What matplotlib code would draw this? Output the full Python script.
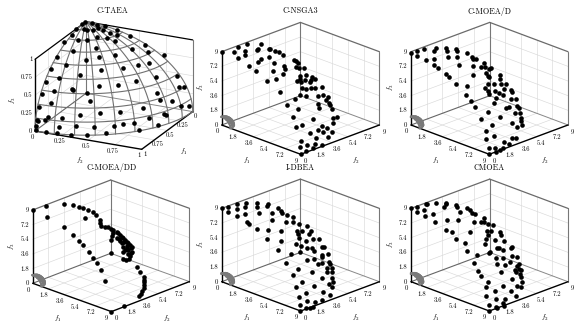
import numpy as np
import matplotlib
matplotlib.use('Agg')
import matplotlib.pyplot as plt

plt.rcParams['font.family'] = ['cmr10', 'DejaVu Serif']
plt.rcParams['mathtext.fontset'] = 'cm'
plt.rcParams['axes.unicode_minus'] = False

titles = ['C-TAEA', 'C-NSGA3', 'C-MOEA/D', 'C-MOEA/DD', 'I-DBEA', 'CMOEA']

ticks_unit = [0, 0.25, 0.5, 0.75, 1]
labels_unit = ['0', '0.25', '0.5', '0.75', '1']
ticks_nine = [0, 1.8, 3.6, 5.4, 7.2, 9]
labels_nine = ['0', '1.8', '3.6', '5.4', '7.2', '9']

# points on the front, one panel after the other
ctaea_f1 = [.01,.01,.01,0,0,.01,.02,.07,.2,.28,.43,.58,.7,.81,.89,.95,.99,1,.07,.13,.15,.15,.08,.1,.08,.18,.18,.22,.29,.34,.49,.64,.76,.85,.92,.97,.98,.99,1,1,.98,.95,.9,.82,.72,.62,.97,.93,.86,.77,.64,.52,.46,.36,.16,.05,.38,.54,.7,.81,.89,.95,.8,.8,.77,.8,.68,.53,.56,.68,.58,.42,.3,.44,.26,.36,.26,.04,.11,.05,.37,.09,.2,0,.45,.35,.17,.36]
ctaea_f2 = [0,.06,.11,.18,.29,.42,.56,0,0,0,0,.01,.01,.01,.01,.01,.01,.01,.15,.13,.08,.05,.2,.27,.33,.36,.28,.21,.15,.09,.11,.12,.11,.11,.11,.11,.08,.02,.01,.1,.2,.31,.44,.58,.69,.79,.21,.35,.49,.63,.76,.84,.89,.92,.97,.99,.91,.79,.65,.52,.37,.23,.26,.42,.38,.25,.27,.25,.41,.45,.58,.55,.63,.68,.78,.84,.93,.87,.92,.94,.87,.62,.69,.73,.34,.44,.51,.27]
ctaea_f3 = [1,1,.99,.99,.96,.91,.83,1,1,.96,.94,.82,.71,.59,.46,.31,.15,.07,.99,.98,.98,.99,.98,.96,.94,.92,.94,.95,.94,.94,.87,.76,.64,.51,.37,.21,.16,.14,.01,.01,.01,0,0,.02,.13,.01,.1,.12,.11,.11,.12,.15,.03,.12,.16,.1,.15,.28,.28,.28,.26,.22,.54,.42,.5,.54,.68,.81,.72,.58,.57,.72,.71,.58,.57,.41,.26,.49,.38,.35,.32,.78,.7,.72,.83,.83,.84,.89]

nsga3_f1 = [0,.63,0,.9,0,1.63,1.71,1.04,.81,0,3.13,3.86,2.88,2.62,0,0,2.39,.32,.6,.63,3.43,4.29,5.11,5.19,3.78,4.22,4.79,6.31,1.7,1.89,2.06,3.62,.97,2.8,4.93,.31,4.54,.9,5.54,5.64,5.34,2.53,3.57,4.95,.22,.76,5.99,5.8,4.31,0,.67,7.02,6.48,5.87,5.07,3.88,5.33,5.3,7.12,7.39,5.75,7.29,7.68,8.01,8.16,6.32,5.9,6.3,8.44,8.44,8.15,8.47,7.92,8.3,8.69,8.67,7.95,7.39,8.86,8.96,8.93,8.8,8.72,8.87,8.98,9]
nsga3_f2 = [0,.77,1.83,1.76,2.86,1.03,.19,2.96,3.38,4.46,.03,.01,1.22,1.83,5.41,5.57,3.01,5.82,5.99,6.42,2.58,1.57,.09,1,3.34,3.01,2.24,.3,6.53,6.64,6.66,4.83,7.91,6.61,3.97,8.69,5.09,8.63,3.09,3.41,4.74,7.76,7.1,5.21,8.94,8.89,4.17,4.85,7.12,9,8.97,1.34,4.48,5.66,7.11,8.01,6.97,7.07,3.87,3.75,6.89,.15,1.06,.12,2.26,6.89,6.77,6.45,.03,.68,3.33,2.47,4.14,3.3,1.38,2.08,4.22,5.24,.18,.01,.76,1.84,2.68,1.54,.63,0]
nsga3_f3 = [9,8.94,8.84,8.78,8.8,8.79,8.83,8.44,8.3,8.12,8.44,8.13,8.44,8.41,7.2,7.14,8.14,6.88,6.76,6.28,7.91,7.76,7.41,7.28,7.46,7.36,7.28,6.41,6.05,5.96,5.77,6.67,4.18,5.43,6.4,2.34,5.87,2.39,6.38,6.13,5.48,3.8,4.23,5.42,1.05,1.21,5.27,4.88,3.54,.08,.28,5.47,4.36,3.81,2.58,1.38,2.08,1.71,3.92,3.5,1.46,5.27,4.57,4.1,3.06,.75,.55,.23,3.12,3.06,1.85,1.75,1.1,1.14,1.9,1,.02,0,1.55,.88,.82,.45,0,.07,.19,0]

moead_f1 = [0,.19,.73,.21,1.68,.36,.9,2.08,2.64,3.1,.47,1.19,2.35,.69,1.29,3.59,2.5,1.41,2.1,2.6,2.55,3.78,4.87,4.02,4.4,5.21,5.81,6.32,.95,3.84,3.6,3.31,.91,4.56,.19,.33,2.67,4.64,5.7,1.77,5.8,2.87,6.23,6.43,.72,1.24,2.07,5.22,5.25,.76,6.72,6.53,3.04,4.52,7.34,7.22,7.47,4.38,5.05,6.32,6.89,7.35,7.83,8.04,8.07,7.3,6.72,6.93,6.38,7.75,8.04,8.42,8.57,8.65,8.77,8.4,8.08,8.78,8.58,8.86,8.96,8.96,9,8.97,9]
moead_f2 = [0,.54,0,1.24,0,2.47,1.74,.6,0,0,3.5,2.9,1.93,4.5,4.02,1.92,2.82,4.97,4.85,4.55,4.86,3.29,2.21,0,0,0,.66,0,7.36,4.18,4.88,5.85,8.02,4,8.58,8.63,7.53,5.6,3.82,8.5,2.99,8.01,2.3,2.45,8.93,8.87,8.58,6.25,6.33,8.97,2.2,4.06,8.41,7.51,2.18,4.06,3.43,7.8,7.36,6.21,0,0,1.01,0,2.14,4.63,5.85,5.64,6.38,4.45,3.51,.92,.01,0,.81,3.16,3.97,1.86,2.7,1.7,0,.69,1.22,.79,0]
moead_f3 = [8.88,8.98,8.8,8.91,8.65,8.65,8.79,8.74,8.38,8.23,8.28,8.44,8.47,7.77,7.95,8.03,8.18,7.37,7.28,7.32,7.13,7.48,7.24,7.87,7.65,7.16,6.84,6.21,5.09,6.98,6.65,5.98,3.99,6.65,2.7,2.53,4.15,5.3,5.82,2.38,6.2,2.94,6.07,5.81,.85,.92,1.78,3.84,3.66,.07,5.57,4.67,1,2.03,4.72,3.52,3.66,.96,1.12,1.56,5.66,5.15,4.32,3.95,3.35,2.5,1.25,1.05,0,1.07,2.01,3.04,2.73,1.74,1.88,.5,.01,.64,.02,0,.8,.45,0,0,0]

moeadd_f1 = [0,0,1.68,0,3.54,.01,.2,.16,.52,.9,2.02,2.98,3.08,3.7,4.1,4.57,5.33,5.79,6.38,6.93,7.3,7.75,8.3,.16,.56,4.23,4.36,4.8,.48,5.66,0,4.31,1.77,4.63,1.08,1.48,2.12,4.89,4.99,2.75,3,5.19,3.12,6.01,1.64,6.04,6.31,6.04,6.11,2.85,2.66,6.53,6.56,7.14,7.16,2.49,1.48,2.11,2.56,3.67,7.04,6.97,6.19,6.36,6.43,6.85,7.22,7.64,7.97,8.25,8.9,9]
moeadd_f2 = [0,1.57,0,3.58,0,4.61,5.14,5.69,5.9,6.09,5.27,3.03,4.66,4.04,3.71,0,.01,.01,.02,.01,.02,.03,.02,8.23,8.16,4.77,4.83,4.47,8.63,3.36,9,5.35,8.09,5.41,8.6,8.51,8.14,5.53,5.62,8.08,8.02,6,8.16,5.36,8.62,4.37,4.29,4.76,4.87,8.43,8.55,3.87,4.42,3.26,3.55,8.64,8.59,8.41,8.35,7.76,4.9,5.36,6.56,6.47,6.37,5.97,5.52,4.91,4.42,3.99,1.6,0]
moeadd_f3 = [9,8.89,8.83,8.27,8.24,7.73,7.38,6.98,6.79,6.57,7.01,7.93,7.05,7.14,7.1,7.66,7.25,6.9,6.34,5.74,5.26,4.58,3.49,3.65,3.75,6.35,6.21,6.16,2.5,6.13,.08,5.82,3.51,5.51,2.42,2.53,3.22,5.15,4.95,2.87,2.79,4.25,2.16,4.02,2.02,5.04,4.77,4.68,4.46,1.33,.93,4.83,4.29,4.41,4.14,.37,2.25,2.4,2.2,2.7,2.72,1.93,.53,.22,0,0,0,0,0,0,0,0]

idbea_f1 = [0,.09,.76,0,.87,1.75,.04,.79,1.95,2.85,3.15,.02,1.04,2.15,4.02,.58,0,4.45,5.2,2.27,3.41,.48,1.38,2.11,2.25,3.75,4.84,5.73,6.36,1.42,3.58,3.43,2.79,4.74,.78,5.12,.07,3.2,4.6,3.97,2.06,5.71,6.12,.11,6.44,1.51,6.48,3.51,4.58,3.03,5.05,6.89,6.77,7.34,7.18,3.11,7.41,7.11,4.69,4.92,7.07,5.79,7.3,5.46,6.79,6.38,8,7.33,7.82,7.99,8.07,7.7,8.42,8.51,8.47,7.32,8.38,8.79,8.81,8.23,8.54,8.81,8.92,8.96,9,8.98,8.96,9]
idbea_f2 = [0,.67,0,1.75,.88,0,2.78,1.88,.71,0,0,3.98,2.96,2.11,0,4.56,5.34,.87,0,3.52,2.37,5.92,5.4,4.82,5.18,3.63,1.96,1.07,.06,6.77,4.52,5.41,6.92,3.82,8.37,3.63,8.81,6.97,5.41,7.15,8.34,3.91,2.32,8.97,3.34,8.78,4.1,7.92,7.11,8.4,7.06,1.05,2.17,2.36,3.36,8.39,3.54,4.3,7.57,7.46,4.99,6.81,4.75,7.14,5.84,6.36,3.49,0,.92,2.28,.02,4.55,.69,2.06,0,5.23,3.18,.78,0,4.13,2.91,1.83,.76,0,1.37,.63,0,1.07]
idbea_f3 = [9,8.98,8.89,8.83,8.91,8.8,8.56,8.77,8.76,8.5,8.38,8.07,8.44,8.48,8.03,7.74,7.36,7.77,7.28,7.97,7.98,6.82,7.07,7.3,7.01,7.33,7.33,6.86,6.37,5.76,6.91,6.33,5.18,6.63,3.23,6.45,1.82,4.75,5.53,4.01,2.68,5.75,6.18,.79,5.33,1.26,4.72,2.45,3.2,1.12,2.55,5.69,5.52,4.65,4.27,.96,3.68,3.46,1.3,1.11,2.47,1.31,2.25,.48,.87,.01,2.21,5.18,4.36,3.47,3.99,1.02,3.09,2.09,2.73,.14,.85,1.77,1.64,0,0,.25,.89,.72,0,.06,0,0]

cmoea_f1 = [0,.06,.73,.94,.04,0,1.64,1.9,0,2.8,1.02,.47,0,3.14,4.02,4.52,.17,.88,2.21,3.39,5.21,.47,.49,2.1,.29,3.72,4.88,5.78,6.39,3.61,1.84,.53,3.56,3.04,.14,4.58,5.22,5.68,5.63,2.8,2.34,2.38,6.37,6.3,6.37,5.49,4.51,6.17,.04,7.05,7.22,3.33,5.15,6.9,6.89,7.56,7.49,7.11,5.18,4.28,7.3,4.83,5.86,7.39,6.82,6.7,7.27,7.74,8.04,8,7.96,6.47,7.81,8.43,8.58,8.51,8.39,7.26,8.65,8.73,8.21,8.89,8.97,8.75,8.82,8.97,9,9,9]
cmoea_f2 = [0,.63,0,.59,1.64,1.87,0,.62,2.82,0,2.8,3.5,4.04,1.03,0,.19,5.02,4.42,3.4,1.96,0,5.94,6.26,4.85,7.04,3.54,1.93,.42,0,4.41,6.56,7.86,5.3,6.31,8.52,4.56,3.65,2.96,4,7.4,7.96,8.27,3.46,3.83,4.14,5.94,7.1,2.32,9,3.51,2.53,8.28,7.03,.64,2.06,2.27,3.33,4.21,7.24,7.9,4.63,7.58,6.75,4.61,5.72,5.95,0,0,0,2.29,3.67,6.26,4.39,.41,.07,2.09,3.08,5.32,0,.91,3.8,.91,.03,2.04,1.78,.76,1.68,0,.84]
cmoea_f3 = [9,8.98,8.88,8.93,8.85,8.83,8.76,8.77,8.57,8.48,8.49,8.28,8.08,8.37,7.99,7.78,7.47,7.79,8.03,8.1,7.32,6.81,6.45,7.28,5.6,7.39,7.31,6.89,6.32,6.96,5.88,4.35,6.34,5.65,2.91,6.27,6.36,6.32,5.77,4.3,3.48,2.63,5.34,5.16,4.82,3.95,3.22,6.12,.1,4.36,4.74,1.17,2.32,5.74,5.41,4.32,3.71,3.57,1.35,.47,2.5,.41,1.08,2.26,1.34,.83,5.16,4.4,3.95,3.43,2.04,0,.88,3.13,2.71,2.07,1.02,.08,1.66,1.98,0,1.07,.71,.51,.16,.21,0,0,0]

fronts = [
    (ctaea_f1, ctaea_f2, ctaea_f3),
    (nsga3_f1, nsga3_f2, nsga3_f3),
    (moead_f1, moead_f2, moead_f3),
    (moeadd_f1, moeadd_f2, moeadd_f3),
    (idbea_f1, idbea_f2, idbea_f3),
    (cmoea_f1, cmoea_f2, cmoea_f3),
]

# where each box sits on the page, in pixels: origin and the three axis directions
views = [
    dict(o=(86, 93.3), e1=(-51, 37.7), e2=(106.7, 18.3), h=71.7, page=(0, 195, 0, 165)),
    dict(o=(221.7, 125), e1=(79, 29.3), e2=(78.7, -29.3), h=73.3, page=(195, 385, 0, 165)),
    dict(o=(411, 125), e1=(78.3, 29.3), e2=(78.7, -29.3), h=73.3, page=(385, 581, 0, 165)),
    dict(o=(32.7, 283.3), e1=(78.7, 28.3), e2=(78, -30), h=73.3, page=(0, 195, 165, 329)),
    dict(o=(221.7, 281.7), e1=(79, 29.3), e2=(78.7, -29.3), h=73.3, page=(195, 385, 165, 329)),
    dict(o=(411, 281.7), e1=(78.3, 29.3), e2=(78.7, -29.3), h=73.3, page=(385, 581, 165, 329)),
]


def project(view, f1, f2, f3, top):
    f1, f2, f3 = np.asarray(f1, float), np.asarray(f2, float), np.asarray(f3, float)
    x = view['o'][0] + (f1 * view['e1'][0] + f2 * view['e2'][0]) / top
    y = view['o'][1] + (f1 * view['e1'][1] + f2 * view['e2'][1]) / top - f3 * view['h'] / top
    return x, y


def seg(ax, view, a, b, top, color, lw, zorder=2):
    x, y = project(view, [a[0], b[0]], [a[1], b[1]], [a[2], b[2]], top)
    ax.plot(x, y, color=color, lw=lw, zorder=zorder, solid_capstyle='round')


def sphere_lines(ax, view, radius, top, color, lw, step, zorder):
    t = np.radians(np.linspace(0, 90, 46))
    for deg in np.arange(0, 90, step):
        el = np.radians(deg)
        x, y = project(view, radius * np.cos(el) * np.cos(t), radius * np.cos(el) * np.sin(t),
                       radius * np.sin(el) * np.ones_like(t), top)
        ax.plot(x, y, color=color, lw=lw, zorder=zorder)
    for deg in np.arange(0, 91, step):
        az = np.radians(deg)
        x, y = project(view, radius * np.cos(t) * np.cos(az), radius * np.cos(t) * np.sin(az),
                       radius * np.sin(t), top)
        ax.plot(x, y, color=color, lw=lw, zorder=zorder)


fig = plt.figure(figsize=(5.81, 3.29), dpi=100)

for i, (title, front, view) in enumerate(zip(titles, fronts, views)):
    x0, x1, y0, y1 = view['page']
    ax = fig.add_axes([x0 / 581, 1 - y1 / 329, (x1 - x0) / 581, (y1 - y0) / 329])
    ax.set_xlim(x0, x1)
    ax.set_ylim(y1, y0)
    ax.axis('off')

    first = i == 0
    top = 1 if first else 9
    ticks = ticks_unit if first else ticks_nine
    labels = labels_unit if first else labels_nine

    # the corners of the floor, as (f1, f2)
    if first:
        left, front_c, right, back = (1, 0), (1, 1), (0, 1), (0, 0)
    else:
        left, front_c, right, back = (0, 0), (9, 0), (9, 9), (0, 9)

    # grid on the floor and on the two back walls
    grid = '#d9d9d9'
    for t in ticks[1:-1]:
        seg(ax, view, (t, 0, 0), (t, top, 0), top, grid, 0.45, 1)
        seg(ax, view, (0, t, 0), (top, t, 0), top, grid, 0.45, 1)
        seg(ax, view, (*left, t), (*back, t), top, grid, 0.45, 1)
        seg(ax, view, (*back, t), (*right, t), top, grid, 0.45, 1)
        if first:
            seg(ax, view, (t, 0, 0), (t, 0, top), top, grid, 0.45, 1)
            seg(ax, view, (0, t, 0), (0, t, top), top, grid, 0.45, 1)
        else:
            seg(ax, view, (0, t, 0), (0, t, top), top, grid, 0.45, 1)
            seg(ax, view, (t, 9, 0), (t, 9, top), top, grid, 0.45, 1)

    # box
    dark = '#000000'
    edge = '#000000' if first else '#6a6a6a'
    seg(ax, view, (*left, 0), (*front_c, 0), top, dark, 1.0, 3)
    seg(ax, view, (*front_c, 0), (*right, 0), top, dark, 1.0, 3)
    seg(ax, view, (*left, 0), (*left, top), top, dark, 1.0, 3)
    seg(ax, view, (*left, top), (*back, top), top, edge, 0.9, 3)
    seg(ax, view, (*back, top), (*right, top), top, edge, 0.9, 3)
    seg(ax, view, (*right, top), (*right, 0), top, '#777777', 0.8, 2)
    seg(ax, view, (*back, 0), (*back, top), top, '#777777', 0.8, 2)
    seg(ax, view, (*left, 0), (*back, 0), top, '#666666', 0.8, 2)
    seg(ax, view, (*back, 0), (*right, 0), top, '#888888', 0.7, 2)

    # the surface: the whole mesh on the first panel, a small ball near the origin on the others
    if first:
        sphere_lines(ax, view, 1, top, '#707070', 0.8, 10, 4)
    else:
        sphere_lines(ax, view, 1.0, top, '#7a7a7a', 1.4, 15, 4)

    px, py = project(view, front[0], front[1], front[2], top)
    ax.scatter(px, py, s=11, color='black', linewidths=0, zorder=6, clip_on=False)

    # tick labels
    fs = 4.8
    for t, lab in zip(ticks, labels):
        x, y = project(view, left[0], left[1], t, top)
        ax.text(x - (2.6 if first else 3.7), y, lab, ha='right', va='center', fontsize=fs)
        if first:
            x, y = project(view, 1, t, 0, top)
            ax.text(x - 2.5, y + 6, lab, ha='center', va='center', fontsize=fs)
            x, y = project(view, t, 1, 0, top)
            ax.text(x + 3, y + 4.5, lab, ha='center', va='center', fontsize=fs)
        else:
            x, y = project(view, t, 0, 0, top)
            ax.text(x - 4.7, y + 6.5, lab, ha='center', va='center', fontsize=fs)
            x, y = project(view, 9, t, 0, top)
            ax.text(x + 4.7, y + 6.7, lab, ha='center', va='center', fontsize=fs)

    # axis names and title
    name_fs = 5
    if first:
        ax.text(183.3, 151.7, '$f_1$', ha='center', va='center', fontsize=name_fs)
        ax.text(79.3, 161, '$f_2$', ha='center', va='center', fontsize=name_fs)
        ax.text(12.7, 100, '$f_3$', ha='center', va='center', fontsize=name_fs, rotation=90)
        ax.text(112.7, 11, title, ha='center', va='center', fontsize=5.8)
    else:
        ox, oy = view['o']
        ax.text(ox + 25, oy + 36, '$f_1$', ha='center', va='center', fontsize=name_fs)
        ax.text(ox + 134, oy + 36, '$f_2$', ha='center', va='center', fontsize=name_fs)
        ax.text(ox - 20.5, oy - 37.5, '$f_3$', ha='center', va='center', fontsize=name_fs, rotation=90)
        ax.text(ox + view['e1'][0], 11 if y0 == 0 else 167.7, title, ha='center', va='center', fontsize=5.8)

fig.savefig('out.png', dpi=100)
